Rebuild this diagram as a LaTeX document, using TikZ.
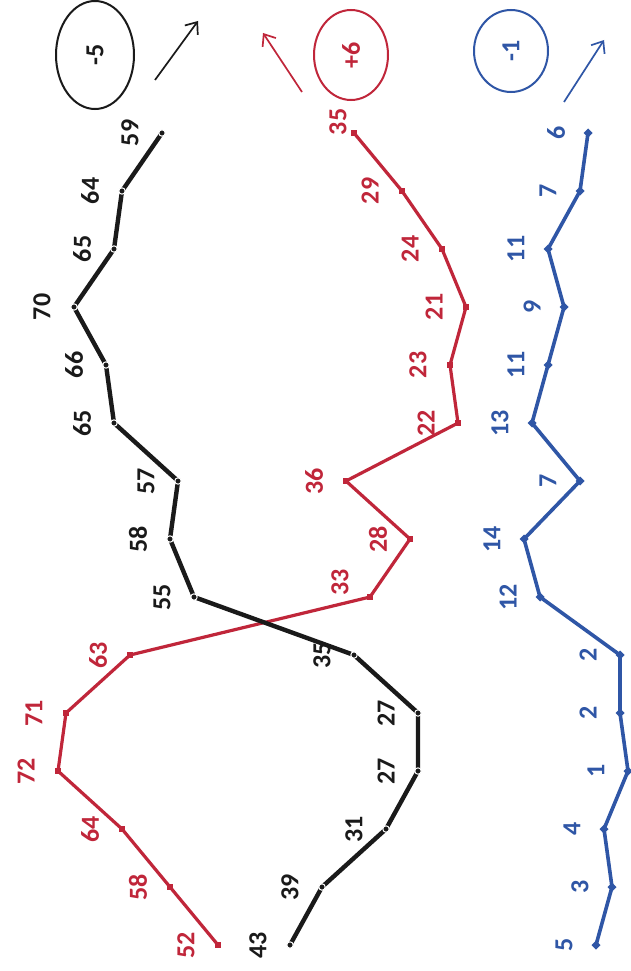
\documentclass[tikz,border=0pt]{standalone}
\usepackage{fontspec}
\setmainfont{Carlito}
\usetikzlibrary{shapes.geometric,arrows.meta}
\definecolor{cblack}{HTML}{1A1A1A}
\definecolor{cred}{HTML}{C0263A}
\definecolor{cblue}{HTML}{2F56A6}
\begin{document}
\begin{tikzpicture}[x=1pt,y=-1pt,
  lbl/.style={rotate=90,font=\fontsize{26}{26}\selectfont\bfseries,inner sep=0pt},
  kline/.style={draw=cblack,line width=4.4pt,line join=round},
  rline/.style={draw=cred,line width=3.2pt,line join=round},
  bline/.style={draw=cblue,line width=3.6pt,line join=round},
  oval/.style={ellipse,draw,line width=2pt,inner sep=0pt},
  trend/.style={line width=1.7pt,-{Straight Barb[length=10pt,width=16pt,line width=1.7pt]}}]
\useasboundingbox[fill=white] (0,0) rectangle (630,971);

% black series
\foreach \v [count=\i from 0] in {43,39,31,27,27,35,55,58,57,65,66,70,65,64,59} {
  \coordinate (k\i) at ({634-8*\v},{945-58*\i});
  \node[lbl,text=cblack] (kl\i) at ({602-8*\v},{945-58*\i}) {\v};
}
% red series
\foreach \v [count=\i from 0] in {52,58,64,72,71,63,33,28,36,22,23,21,24,29,35} {
  \coordinate (r\i) at ({634-8*\v},{945-58*\i});
}
\foreach \v [count=\i from 0] in {52,58,64,72,71,63} {
  \node[lbl,text=cred] (rl\i) at ({602-8*\v},{945-58*\i}) {\v};
}
\node[lbl,text=cred] (rl6) at (340,582) {33};
\foreach \v [count=\i from 7] in {28,36,22,23,21,24,29} {
  \node[lbl,text=cred] (rl\i) at ({602-8*\v},{945-58*\i}) {\v};
}
\node[lbl,text=cred] (rl14) at (338,122) {35};
% blue series
\foreach \v [count=\i from 0] in {5,3,4,1,2,2,12,14,7,13,11,9,11,7,6} {
  \coordinate (b\i) at ({636-8*\v},{945-58*\i});
  \node[lbl,text=cblue] (bl\i) at ({604-8*\v},{945-58*\i}) {\v};
}

\draw[bline] (b0) \foreach \i in {1,...,14}{ -- (b\i)};
\foreach \i in {0,...,14} \fill[cblue] (b\i) +(-4.5,0) -- +(0,-4.5) -- +(4.5,0) -- +(0,4.5) -- cycle;

\draw[rline] (r0) \foreach \i in {1,...,14}{ -- (r\i)};
\foreach \i in {0,...,14} \fill[cred] (r\i) +(-2.8,-2.8) rectangle +(2.8,2.8);

\draw[kline] (k0) \foreach \i in {1,...,14}{ -- (k\i)};
\foreach \i in {0,...,14} \filldraw[fill=cblack,draw=white,line width=1pt] (k\i) circle (3.2);

% ovals with net change
\node[oval,draw=cblack,minimum width=78pt,minimum height=108pt] (ek) at (95,55) {};
\node[lbl,text=cblack] at (ek) {-5};
\node[oval,draw=cred,minimum width=74pt,minimum height=90pt] (er) at (351,55) {};
\node[lbl,text=cred] at (er) {+6};
\node[oval,draw=cblue,minimum width=74pt,minimum height=82pt] (eb) at (511,51) {};
\node[lbl,text=cblue] at (eb) {-1};

% trend arrows
\coordinate (ka) at (155,80); \coordinate (kb) at (198,21);
\coordinate (ra) at (302,92); \coordinate (rb) at (263,33);
\coordinate (ba) at (564,102); \coordinate (bb) at (604,40);
\draw[trend,cblack] (ka) -- (kb);
\draw[trend,cred] (ra) -- (rb);
\draw[trend,cblue] (ba) -- (bb);
\end{tikzpicture}
\end{document}
